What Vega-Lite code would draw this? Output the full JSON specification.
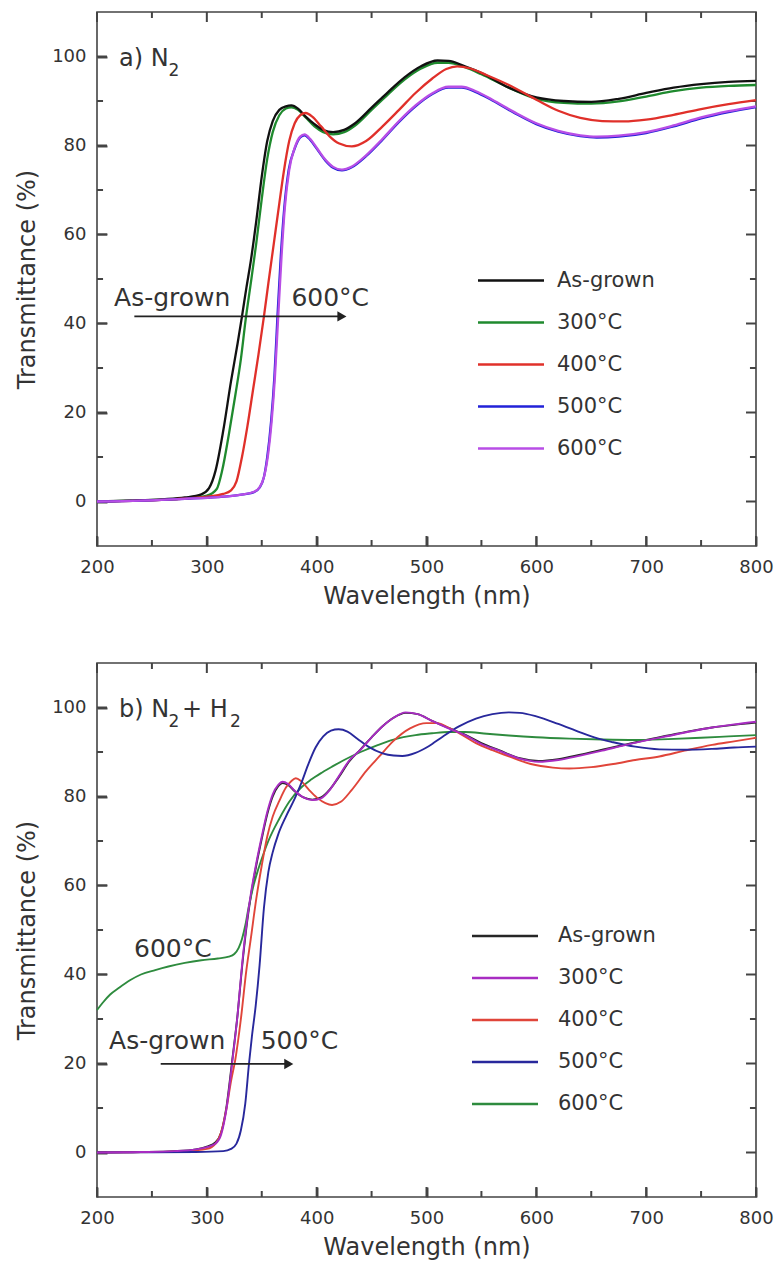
{
  "$schema": "https://vega.github.io/schema/vega-lite/v6.json",
  "background": "white",
  "padding": {"left": 14, "top": 10, "right": 0, "bottom": 0},
  "autosize": {"type": "pad"},
  "spacing": 52,
  "resolve": {"scale": {"color": "independent"}},
  "config": {
    "font": "DejaVu Sans",
    "view": {"stroke": "#444", "strokeWidth": 1.6},
    "axis": {"labelFontSize": 18, "labelColor": "#333", "titleFontSize": 24, "titleFontWeight": "normal", "titleColor": "#333", "labelOverlap": false, "labelFlush": false},
    "legend": {"padding": 0, "labelFontSize": 21, "labelColor": "#333", "symbolStrokeWidth": 2.5, "rowPadding": 20},
    "line": {"interpolate": "monotone"}
  },
  "vconcat": [
    {
      "width": 659,
      "height": 534,
      "resolve": {"axis": {"x": "independent", "y": "independent"}},
      "layer": [
        {
          "data": {"values": [{"v": 200}, {"v": 300}, {"v": 400}, {"v": 500}, {"v": 600}, {"v": 700}, {"v": 800}]},
          "mark": {"type": "rule", "color": "#444", "strokeWidth": 2},
          "encoding": {"x": {"field": "v", "type": "quantitative", "axis": null}, "y": {"datum": -10, "type": "quantitative", "axis": null}, "y2": {"datum": -7.75}}
        },
        {
          "data": {"values": [{"v": 200}, {"v": 300}, {"v": 400}, {"v": 500}, {"v": 600}, {"v": 700}, {"v": 800}]},
          "mark": {"type": "rule", "color": "#444", "strokeWidth": 2},
          "encoding": {"x": {"field": "v", "type": "quantitative", "axis": null}, "y": {"datum": 110, "type": "quantitative", "axis": null}, "y2": {"datum": 107.75}}
        },
        {
          "data": {"values": [{"v": 250}, {"v": 350}, {"v": 450}, {"v": 550}, {"v": 650}, {"v": 750}]},
          "mark": {"type": "rule", "color": "#444", "strokeWidth": 2},
          "encoding": {"x": {"field": "v", "type": "quantitative", "axis": null}, "y": {"datum": -10, "type": "quantitative", "axis": null}, "y2": {"datum": -8.65}}
        },
        {
          "data": {"values": [{"v": 250}, {"v": 350}, {"v": 450}, {"v": 550}, {"v": 650}, {"v": 750}]},
          "mark": {"type": "rule", "color": "#444", "strokeWidth": 2},
          "encoding": {"x": {"field": "v", "type": "quantitative", "axis": null}, "y": {"datum": 110, "type": "quantitative", "axis": null}, "y2": {"datum": 108.65}}
        },
        {
          "data": {"values": [{"v": 0}, {"v": 20}, {"v": 40}, {"v": 60}, {"v": 80}, {"v": 100}]},
          "mark": {"type": "rule", "color": "#444", "strokeWidth": 2},
          "encoding": {"y": {"field": "v", "type": "quantitative", "axis": null}, "x": {"datum": 200, "type": "quantitative", "axis": null}, "x2": {"datum": 209.1}}
        },
        {
          "data": {"values": [{"v": 0}, {"v": 20}, {"v": 40}, {"v": 60}, {"v": 80}, {"v": 100}]},
          "mark": {"type": "rule", "color": "#444", "strokeWidth": 2},
          "encoding": {"y": {"field": "v", "type": "quantitative", "axis": null}, "x": {"datum": 800, "type": "quantitative", "axis": null}, "x2": {"datum": 790.9}}
        },
        {
          "data": {"values": [{"v": 10}, {"v": 30}, {"v": 50}, {"v": 70}, {"v": 90}]},
          "mark": {"type": "rule", "color": "#444", "strokeWidth": 2},
          "encoding": {"y": {"field": "v", "type": "quantitative", "axis": null}, "x": {"datum": 200, "type": "quantitative", "axis": null}, "x2": {"datum": 205.5}}
        },
        {
          "data": {"values": [{"v": 10}, {"v": 30}, {"v": 50}, {"v": 70}, {"v": 90}]},
          "mark": {"type": "rule", "color": "#444", "strokeWidth": 2},
          "encoding": {"y": {"field": "v", "type": "quantitative", "axis": null}, "x": {"datum": 800, "type": "quantitative", "axis": null}, "x2": {"datum": 794.5}}
        },
        {
          "data": {"values": [
            {"s":"300°C","x":200,"y":0},{"s":"300°C","x":230,"y":0.2},{"s":"300°C","x":260,"y":0.4},{"s":"300°C","x":280,"y":0.7},{"s":"300°C","x":300,"y":1.3},{"s":"300°C","x":309,"y":2.8},{"s":"300°C","x":314,"y":7},{"s":"300°C","x":320,"y":15},{"s":"300°C","x":326,"y":24},{"s":"300°C","x":331,"y":32},{"s":"300°C","x":335.4,"y":41},{"s":"300°C","x":340,"y":49},{"s":"300°C","x":345,"y":58},{"s":"300°C","x":350,"y":68},{"s":"300°C","x":355,"y":77},{"s":"300°C","x":360,"y":83},{"s":"300°C","x":366,"y":86.8},{"s":"300°C","x":372,"y":88.3},{"s":"300°C","x":377,"y":88.6},{"s":"300°C","x":383,"y":88},{"s":"300°C","x":390,"y":86.3},{"s":"300°C","x":398,"y":84.3},{"s":"300°C","x":406,"y":83},{"s":"300°C","x":415,"y":82.5},{"s":"300°C","x":425,"y":83},{"s":"300°C","x":435,"y":84.5},{"s":"300°C","x":450,"y":88},{"s":"300°C","x":465,"y":91.5},{"s":"300°C","x":480,"y":94.8},{"s":"300°C","x":495,"y":97.3},{"s":"300°C","x":510,"y":98.6},{"s":"300°C","x":520,"y":98.6},{"s":"300°C","x":535,"y":97.6},{"s":"300°C","x":550,"y":96},{"s":"300°C","x":575,"y":93},{"s":"300°C","x":600,"y":90.5},{"s":"300°C","x":625,"y":89.6},{"s":"300°C","x":650,"y":89.4},{"s":"300°C","x":675,"y":89.9},{"s":"300°C","x":700,"y":91},{"s":"300°C","x":725,"y":92.2},{"s":"300°C","x":750,"y":93},{"s":"300°C","x":775,"y":93.4},{"s":"300°C","x":800,"y":93.6},
            {"s":"As-grown","x":200,"y":0},{"s":"As-grown","x":230,"y":0.2},{"s":"As-grown","x":260,"y":0.5},{"s":"As-grown","x":280,"y":0.9},{"s":"As-grown","x":295,"y":1.6},{"s":"As-grown","x":302,"y":3},{"s":"As-grown","x":308,"y":7},{"s":"As-grown","x":315,"y":16},{"s":"As-grown","x":322,"y":27},{"s":"As-grown","x":328,"y":35.5},{"s":"As-grown","x":332,"y":41.6},{"s":"As-grown","x":336,"y":48},{"s":"As-grown","x":340,"y":54},{"s":"As-grown","x":345,"y":63},{"s":"As-grown","x":350,"y":73},{"s":"As-grown","x":355,"y":81},{"s":"As-grown","x":360,"y":85.5},{"s":"As-grown","x":366,"y":88},{"s":"As-grown","x":372,"y":88.8},{"s":"As-grown","x":377,"y":89},{"s":"As-grown","x":383,"y":88.3},{"s":"As-grown","x":390,"y":86.5},{"s":"As-grown","x":398,"y":84.8},{"s":"As-grown","x":406,"y":83.5},{"s":"As-grown","x":415,"y":83},{"s":"As-grown","x":425,"y":83.5},{"s":"As-grown","x":435,"y":85},{"s":"As-grown","x":450,"y":88.5},{"s":"As-grown","x":465,"y":92},{"s":"As-grown","x":480,"y":95.3},{"s":"As-grown","x":495,"y":97.8},{"s":"As-grown","x":510,"y":99.1},{"s":"As-grown","x":520,"y":99},{"s":"As-grown","x":535,"y":97.8},{"s":"As-grown","x":550,"y":96.3},{"s":"As-grown","x":575,"y":93},{"s":"As-grown","x":600,"y":90.8},{"s":"As-grown","x":625,"y":90},{"s":"As-grown","x":650,"y":89.8},{"s":"As-grown","x":675,"y":90.5},{"s":"As-grown","x":700,"y":91.8},{"s":"As-grown","x":725,"y":93},{"s":"As-grown","x":750,"y":93.8},{"s":"As-grown","x":775,"y":94.3},{"s":"As-grown","x":800,"y":94.5},
            {"s":"400°C","x":200,"y":0},{"s":"400°C","x":240,"y":0.2},{"s":"400°C","x":270,"y":0.5},{"s":"400°C","x":300,"y":1.1},{"s":"400°C","x":315,"y":1.7},{"s":"400°C","x":322,"y":2.5},{"s":"400°C","x":327,"y":4.5},{"s":"400°C","x":332,"y":10},{"s":"400°C","x":337,"y":17},{"s":"400°C","x":342,"y":25},{"s":"400°C","x":347,"y":33},{"s":"400°C","x":352,"y":41.6},{"s":"400°C","x":356,"y":49},{"s":"400°C","x":361,"y":58},{"s":"400°C","x":366,"y":67},{"s":"400°C","x":370,"y":74},{"s":"400°C","x":375,"y":81},{"s":"400°C","x":380,"y":85},{"s":"400°C","x":385,"y":86.8},{"s":"400°C","x":390,"y":87.3},{"s":"400°C","x":396,"y":86.5},{"s":"400°C","x":404,"y":84.3},{"s":"400°C","x":412,"y":82},{"s":"400°C","x":420,"y":80.5},{"s":"400°C","x":432,"y":79.8},{"s":"400°C","x":445,"y":81},{"s":"400°C","x":460,"y":84.3},{"s":"400°C","x":475,"y":88},{"s":"400°C","x":490,"y":91.8},{"s":"400°C","x":505,"y":95},{"s":"400°C","x":518,"y":97.2},{"s":"400°C","x":528,"y":97.8},{"s":"400°C","x":540,"y":97.3},{"s":"400°C","x":555,"y":95.8},{"s":"400°C","x":575,"y":93.6},{"s":"400°C","x":600,"y":90.3},{"s":"400°C","x":620,"y":87.8},{"s":"400°C","x":640,"y":86.2},{"s":"400°C","x":660,"y":85.5},{"s":"400°C","x":680,"y":85.4},{"s":"400°C","x":700,"y":85.8},{"s":"400°C","x":725,"y":86.9},{"s":"400°C","x":750,"y":88.2},{"s":"400°C","x":775,"y":89.3},{"s":"400°C","x":800,"y":90.2},
            {"s":"500°C","x":200,"y":0},{"s":"500°C","x":240,"y":0.2},{"s":"500°C","x":280,"y":0.6},{"s":"500°C","x":310,"y":1},{"s":"500°C","x":330,"y":1.5},{"s":"500°C","x":343,"y":2.1},{"s":"500°C","x":348,"y":3.1},{"s":"500°C","x":352,"y":5.5},{"s":"500°C","x":355,"y":10},{"s":"500°C","x":358.5,"y":18},{"s":"500°C","x":361.5,"y":28},{"s":"500°C","x":364.3,"y":41.6},{"s":"500°C","x":367.3,"y":55},{"s":"500°C","x":370.5,"y":66},{"s":"500°C","x":374.5,"y":74.5},{"s":"500°C","x":380,"y":79.3},{"s":"500°C","x":385,"y":81.8},{"s":"500°C","x":389,"y":82.3},{"s":"500°C","x":394,"y":81.3},{"s":"500°C","x":400,"y":79.3},{"s":"500°C","x":408,"y":76.6},{"s":"500°C","x":415,"y":75},{"s":"500°C","x":423,"y":74.4},{"s":"500°C","x":432,"y":75.1},{"s":"500°C","x":445,"y":77.6},{"s":"500°C","x":460,"y":81.3},{"s":"500°C","x":475,"y":85.3},{"s":"500°C","x":490,"y":88.8},{"s":"500°C","x":505,"y":91.5},{"s":"500°C","x":520,"y":93},{"s":"500°C","x":532,"y":93},{"s":"500°C","x":545,"y":92},{"s":"500°C","x":560,"y":90.1},{"s":"500°C","x":580,"y":87.3},{"s":"500°C","x":600,"y":84.8},{"s":"500°C","x":620,"y":83.1},{"s":"500°C","x":640,"y":82.1},{"s":"500°C","x":655,"y":81.8},{"s":"500°C","x":675,"y":82},{"s":"500°C","x":700,"y":82.8},{"s":"500°C","x":725,"y":84.3},{"s":"500°C","x":750,"y":86.1},{"s":"500°C","x":775,"y":87.5},{"s":"500°C","x":800,"y":88.6},
            {"s":"600°C","x":200,"y":0},{"s":"600°C","x":240,"y":0.2},{"s":"600°C","x":280,"y":0.6},{"s":"600°C","x":310,"y":1},{"s":"600°C","x":330,"y":1.5},{"s":"600°C","x":343,"y":2.2},{"s":"600°C","x":348,"y":3.2},{"s":"600°C","x":352,"y":5.5},{"s":"600°C","x":356,"y":11},{"s":"600°C","x":359,"y":18},{"s":"600°C","x":362,"y":28},{"s":"600°C","x":365,"y":41.6},{"s":"600°C","x":368,"y":55},{"s":"600°C","x":371,"y":66},{"s":"600°C","x":375,"y":74.5},{"s":"600°C","x":380,"y":79.5},{"s":"600°C","x":385,"y":82},{"s":"600°C","x":389,"y":82.5},{"s":"600°C","x":394,"y":81.5},{"s":"600°C","x":400,"y":79.5},{"s":"600°C","x":408,"y":76.8},{"s":"600°C","x":415,"y":75.2},{"s":"600°C","x":423,"y":74.6},{"s":"600°C","x":432,"y":75.3},{"s":"600°C","x":445,"y":77.8},{"s":"600°C","x":460,"y":81.5},{"s":"600°C","x":475,"y":85.5},{"s":"600°C","x":490,"y":89},{"s":"600°C","x":505,"y":91.7},{"s":"600°C","x":520,"y":93.2},{"s":"600°C","x":532,"y":93.2},{"s":"600°C","x":545,"y":92.2},{"s":"600°C","x":560,"y":90.3},{"s":"600°C","x":580,"y":87.5},{"s":"600°C","x":600,"y":85},{"s":"600°C","x":620,"y":83.3},{"s":"600°C","x":640,"y":82.3},{"s":"600°C","x":655,"y":82},{"s":"600°C","x":675,"y":82.2},{"s":"600°C","x":700,"y":83},{"s":"600°C","x":725,"y":84.5},{"s":"600°C","x":750,"y":86.3},{"s":"600°C","x":775,"y":87.7},{"s":"600°C","x":800,"y":88.8}
          ]},
          "mark": {"type": "line", "strokeWidth": 2.3},
          "encoding": {
            "x": {"field": "x", "type": "quantitative", "scale": {"domain": [200, 800], "nice": false, "zero": false}, "axis": {"orient": "bottom", "values": [200, 300, 400, 500, 600, 700, 800], "title": "Wavelength (nm)", "grid": false, "domain": false, "ticks": true, "tickColor": "#444", "tickWidth": 2, "tickSize": -10, "labelPadding": 22, "titlePadding": 8}},
            "y": {"field": "y", "type": "quantitative", "scale": {"domain": [-10, 110], "nice": false, "zero": false}, "axis": {"orient": "left", "values": [0, 20, 40, 60, 80, 100], "title": "Transmittance (%)", "grid": false, "domain": false, "ticks": true, "tickColor": "#444", "tickWidth": 2, "tickSize": -10, "labelPadding": 21, "titlePadding": 12}},
            "color": {"field": "s", "type": "nominal", "scale": {"domain": ["As-grown", "300°C", "400°C", "500°C", "600°C"], "range": ["#111111", "#1f8a2e", "#e0302a", "#2222d8", "#b84ee6"]}, "legend": {"title": null, "orient": "none", "legendX": 403.5, "legendY": 258, "symbolType": "M-6,0H6", "symbolSize": 121, "labelOffset": 35.5}}
          }
        },
        {
          "data": {"values": [{"t": "As-grown", "x": 215.5, "y": 44}, {"t": "600°C", "x": 377, "y": 44}]},
          "mark": {"type": "text", "align": "left", "baseline": "alphabetic", "fontSize": 25, "color": "#333"},
          "encoding": {
            "x": {"field": "x", "type": "quantitative", "axis": null},
            "y": {"field": "y", "type": "quantitative", "axis": null},
            "text": {"field": "t"}
          }
        },
        {
          "data": {"values": [{"x": 234, "x2": 424, "y": 41.6}]},
          "mark": {"type": "rule", "color": "#222", "strokeWidth": 1.8},
          "encoding": {
            "x": {"field": "x", "type": "quantitative", "axis": null},
            "x2": {"field": "x2"},
            "y": {"field": "y", "type": "quantitative", "axis": null}
          }
        },
        {
          "data": {"values": [{"x": 423, "y": 41.6}]},
          "mark": {"type": "point", "shape": "triangle-right", "filled": true, "size": 110, "color": "#222", "opacity": 1},
          "encoding": {
            "x": {"field": "x", "type": "quantitative", "axis": null},
            "y": {"field": "y", "type": "quantitative", "axis": null}
          }
        },
        {
          "data": {"values": [{"t": "a) N", "x": 220, "y": 97.8}]},
          "mark": {"type": "text", "align": "left", "baseline": "alphabetic", "fontSize": 24, "color": "#333"},
          "encoding": {
            "x": {"field": "x", "type": "quantitative", "axis": null},
            "y": {"field": "y", "type": "quantitative", "axis": null},
            "text": {"field": "t"}
          }
        },
        {
          "data": {"values": [{"t": "2", "x": 265, "y": 95.6}]},
          "mark": {"type": "text", "align": "left", "baseline": "alphabetic", "fontSize": 17, "color": "#333"},
          "encoding": {
            "x": {"field": "x", "type": "quantitative", "axis": null},
            "y": {"field": "y", "type": "quantitative", "axis": null},
            "text": {"field": "t"}
          }
        }
      ]
    },
    {
      "width": 659,
      "height": 534,
      "resolve": {"axis": {"x": "independent", "y": "independent"}},
      "layer": [
        {
          "data": {"values": [{"v": 200}, {"v": 300}, {"v": 400}, {"v": 500}, {"v": 600}, {"v": 700}, {"v": 800}]},
          "mark": {"type": "rule", "color": "#444", "strokeWidth": 2},
          "encoding": {"x": {"field": "v", "type": "quantitative", "axis": null}, "y": {"datum": -10, "type": "quantitative", "axis": null}, "y2": {"datum": -7.75}}
        },
        {
          "data": {"values": [{"v": 200}, {"v": 300}, {"v": 400}, {"v": 500}, {"v": 600}, {"v": 700}, {"v": 800}]},
          "mark": {"type": "rule", "color": "#444", "strokeWidth": 2},
          "encoding": {"x": {"field": "v", "type": "quantitative", "axis": null}, "y": {"datum": 110, "type": "quantitative", "axis": null}, "y2": {"datum": 107.75}}
        },
        {
          "data": {"values": [{"v": 250}, {"v": 350}, {"v": 450}, {"v": 550}, {"v": 650}, {"v": 750}]},
          "mark": {"type": "rule", "color": "#444", "strokeWidth": 2},
          "encoding": {"x": {"field": "v", "type": "quantitative", "axis": null}, "y": {"datum": -10, "type": "quantitative", "axis": null}, "y2": {"datum": -8.65}}
        },
        {
          "data": {"values": [{"v": 250}, {"v": 350}, {"v": 450}, {"v": 550}, {"v": 650}, {"v": 750}]},
          "mark": {"type": "rule", "color": "#444", "strokeWidth": 2},
          "encoding": {"x": {"field": "v", "type": "quantitative", "axis": null}, "y": {"datum": 110, "type": "quantitative", "axis": null}, "y2": {"datum": 108.65}}
        },
        {
          "data": {"values": [{"v": 0}, {"v": 20}, {"v": 40}, {"v": 60}, {"v": 80}, {"v": 100}]},
          "mark": {"type": "rule", "color": "#444", "strokeWidth": 2},
          "encoding": {"y": {"field": "v", "type": "quantitative", "axis": null}, "x": {"datum": 200, "type": "quantitative", "axis": null}, "x2": {"datum": 209.1}}
        },
        {
          "data": {"values": [{"v": 0}, {"v": 20}, {"v": 40}, {"v": 60}, {"v": 80}, {"v": 100}]},
          "mark": {"type": "rule", "color": "#444", "strokeWidth": 2},
          "encoding": {"y": {"field": "v", "type": "quantitative", "axis": null}, "x": {"datum": 800, "type": "quantitative", "axis": null}, "x2": {"datum": 790.9}}
        },
        {
          "data": {"values": [{"v": 10}, {"v": 30}, {"v": 50}, {"v": 70}, {"v": 90}]},
          "mark": {"type": "rule", "color": "#444", "strokeWidth": 2},
          "encoding": {"y": {"field": "v", "type": "quantitative", "axis": null}, "x": {"datum": 200, "type": "quantitative", "axis": null}, "x2": {"datum": 205.5}}
        },
        {
          "data": {"values": [{"v": 10}, {"v": 30}, {"v": 50}, {"v": 70}, {"v": 90}]},
          "mark": {"type": "rule", "color": "#444", "strokeWidth": 2},
          "encoding": {"y": {"field": "v", "type": "quantitative", "axis": null}, "x": {"datum": 800, "type": "quantitative", "axis": null}, "x2": {"datum": 794.5}}
        },
        {
          "data": {"values": [
            {"s":"As-grown","x":200,"y":0},{"s":"As-grown","x":240,"y":0.1},{"s":"As-grown","x":270,"y":0.3},{"s":"As-grown","x":290,"y":0.7},{"s":"As-grown","x":300,"y":1.3},{"s":"As-grown","x":308,"y":2.3},{"s":"As-grown","x":313,"y":4.5},{"s":"As-grown","x":318,"y":10.5},{"s":"As-grown","x":323,"y":20.5},{"s":"As-grown","x":328,"y":31},{"s":"As-grown","x":332,"y":41.5},{"s":"As-grown","x":336,"y":50.5},{"s":"As-grown","x":340,"y":57.5},{"s":"As-grown","x":345,"y":64.5},{"s":"As-grown","x":350,"y":70.5},{"s":"As-grown","x":355,"y":76},{"s":"As-grown","x":360,"y":80},{"s":"As-grown","x":365,"y":82.3},{"s":"As-grown","x":369,"y":83},{"s":"As-grown","x":374,"y":82.6},{"s":"As-grown","x":380,"y":81.2},{"s":"As-grown","x":388,"y":79.8},{"s":"As-grown","x":396,"y":79.3},{"s":"As-grown","x":404,"y":79.8},{"s":"As-grown","x":412,"y":81.6},{"s":"As-grown","x":420,"y":84.3},{"s":"As-grown","x":430,"y":88},{"s":"As-grown","x":440,"y":90.6},{"s":"As-grown","x":450,"y":93.3},{"s":"As-grown","x":460,"y":95.8},{"s":"As-grown","x":470,"y":97.7},{"s":"As-grown","x":481,"y":98.8},{"s":"As-grown","x":492,"y":98.5},{"s":"As-grown","x":505,"y":97},{"s":"As-grown","x":520,"y":95.4},{"s":"As-grown","x":535,"y":93.9},{"s":"As-grown","x":550,"y":92},{"s":"As-grown","x":566,"y":90.4},{"s":"As-grown","x":585,"y":88.6},{"s":"As-grown","x":602,"y":88},{"s":"As-grown","x":620,"y":88.4},{"s":"As-grown","x":640,"y":89.4},{"s":"As-grown","x":660,"y":90.5},{"s":"As-grown","x":680,"y":91.6},{"s":"As-grown","x":700,"y":92.7},{"s":"As-grown","x":720,"y":93.7},{"s":"As-grown","x":740,"y":94.7},{"s":"As-grown","x":760,"y":95.5},{"s":"As-grown","x":780,"y":96.1},{"s":"As-grown","x":800,"y":96.6},
            {"s":"600°C","x":200,"y":32},{"s":"600°C","x":205,"y":33.6},{"s":"600°C","x":212,"y":35.5},{"s":"600°C","x":220,"y":37},{"s":"600°C","x":230,"y":38.7},{"s":"600°C","x":240,"y":40},{"s":"600°C","x":253,"y":41},{"s":"600°C","x":265,"y":41.8},{"s":"600°C","x":280,"y":42.6},{"s":"600°C","x":295,"y":43.2},{"s":"600°C","x":310,"y":43.6},{"s":"600°C","x":320,"y":44},{"s":"600°C","x":325,"y":44.6},{"s":"600°C","x":329,"y":46},{"s":"600°C","x":332,"y":48},{"s":"600°C","x":335,"y":51},{"s":"600°C","x":338,"y":55},{"s":"600°C","x":342,"y":59.5},{"s":"600°C","x":346,"y":63},{"s":"600°C","x":350,"y":66},{"s":"600°C","x":356,"y":70},{"s":"600°C","x":366,"y":75},{"s":"600°C","x":375,"y":78.8},{"s":"600°C","x":385,"y":81.8},{"s":"600°C","x":395,"y":83.8},{"s":"600°C","x":405,"y":85.4},{"s":"600°C","x":414,"y":86.7},{"s":"600°C","x":425,"y":88.2},{"s":"600°C","x":440,"y":90},{"s":"600°C","x":455,"y":91.5},{"s":"600°C","x":470,"y":92.8},{"s":"600°C","x":490,"y":93.8},{"s":"600°C","x":505,"y":94.2},{"s":"600°C","x":520,"y":94.5},{"s":"600°C","x":535,"y":94.5},{"s":"600°C","x":555,"y":94.1},{"s":"600°C","x":575,"y":93.7},{"s":"600°C","x":600,"y":93.3},{"s":"600°C","x":630,"y":93},{"s":"600°C","x":660,"y":92.8},{"s":"600°C","x":690,"y":92.7},{"s":"600°C","x":720,"y":92.9},{"s":"600°C","x":750,"y":93.2},{"s":"600°C","x":775,"y":93.5},{"s":"600°C","x":800,"y":93.8},
            {"s":"400°C","x":200,"y":0},{"s":"400°C","x":250,"y":0.1},{"s":"400°C","x":280,"y":0.3},{"s":"400°C","x":300,"y":0.8},{"s":"400°C","x":308,"y":2},{"s":"400°C","x":313,"y":4.5},{"s":"400°C","x":318,"y":10},{"s":"400°C","x":322,"y":16},{"s":"400°C","x":326,"y":21},{"s":"400°C","x":331,"y":30},{"s":"400°C","x":336,"y":41},{"s":"400°C","x":340,"y":48},{"s":"400°C","x":345,"y":57},{"s":"400°C","x":350,"y":64.5},{"s":"400°C","x":355,"y":71},{"s":"400°C","x":360,"y":75.5},{"s":"400°C","x":366,"y":79},{"s":"400°C","x":372,"y":82},{"s":"400°C","x":377,"y":83.5},{"s":"400°C","x":381,"y":84.1},{"s":"400°C","x":386,"y":83.4},{"s":"400°C","x":393,"y":81.5},{"s":"400°C","x":400,"y":79.8},{"s":"400°C","x":408,"y":78.5},{"s":"400°C","x":414,"y":78.1},{"s":"400°C","x":422,"y":78.8},{"s":"400°C","x":432,"y":81.5},{"s":"400°C","x":445,"y":85.7},{"s":"400°C","x":457,"y":89},{"s":"400°C","x":470,"y":92.5},{"s":"400°C","x":485,"y":95.3},{"s":"400°C","x":500,"y":96.5},{"s":"400°C","x":510,"y":96.5},{"s":"400°C","x":520,"y":95.5},{"s":"400°C","x":530,"y":94.2},{"s":"400°C","x":545,"y":92},{"s":"400°C","x":560,"y":90.4},{"s":"400°C","x":575,"y":89},{"s":"400°C","x":595,"y":87.3},{"s":"400°C","x":615,"y":86.5},{"s":"400°C","x":630,"y":86.3},{"s":"400°C","x":650,"y":86.6},{"s":"400°C","x":670,"y":87.3},{"s":"400°C","x":690,"y":88.2},{"s":"400°C","x":712,"y":89},{"s":"400°C","x":735,"y":90.3},{"s":"400°C","x":760,"y":91.6},{"s":"400°C","x":780,"y":92.4},{"s":"400°C","x":800,"y":93.2},
            {"s":"500°C","x":200,"y":0},{"s":"500°C","x":250,"y":0.05},{"s":"500°C","x":290,"y":0.1},{"s":"500°C","x":315,"y":0.3},{"s":"500°C","x":322,"y":0.8},{"s":"500°C","x":327,"y":2},{"s":"500°C","x":331,"y":5},{"s":"500°C","x":335,"y":11},{"s":"500°C","x":338.4,"y":20},{"s":"500°C","x":341,"y":26},{"s":"500°C","x":344.5,"y":33},{"s":"500°C","x":348,"y":42},{"s":"500°C","x":352,"y":55},{"s":"500°C","x":356,"y":63},{"s":"500°C","x":360,"y":67.5},{"s":"500°C","x":365,"y":71.5},{"s":"500°C","x":372,"y":75.5},{"s":"500°C","x":380,"y":79.5},{"s":"500°C","x":386,"y":83},{"s":"500°C","x":392,"y":87},{"s":"500°C","x":399,"y":91},{"s":"500°C","x":406,"y":93.5},{"s":"500°C","x":413,"y":94.8},{"s":"500°C","x":420,"y":95.1},{"s":"500°C","x":428,"y":94.6},{"s":"500°C","x":437,"y":93},{"s":"500°C","x":447,"y":91.2},{"s":"500°C","x":460,"y":89.7},{"s":"500°C","x":470,"y":89.2},{"s":"500°C","x":478,"y":89.1},{"s":"500°C","x":490,"y":89.8},{"s":"500°C","x":502,"y":91.3},{"s":"500°C","x":515,"y":93.5},{"s":"500°C","x":530,"y":95.8},{"s":"500°C","x":545,"y":97.5},{"s":"500°C","x":560,"y":98.5},{"s":"500°C","x":575,"y":98.9},{"s":"500°C","x":585,"y":98.8},{"s":"500°C","x":600,"y":98},{"s":"500°C","x":620,"y":96.3},{"s":"500°C","x":640,"y":94.4},{"s":"500°C","x":655,"y":93.1},{"s":"500°C","x":670,"y":92.2},{"s":"500°C","x":690,"y":91.2},{"s":"500°C","x":712,"y":90.6},{"s":"500°C","x":735,"y":90.5},{"s":"500°C","x":760,"y":90.7},{"s":"500°C","x":780,"y":91},{"s":"500°C","x":800,"y":91.2},
            {"s":"300°C","x":200,"y":0},{"s":"300°C","x":240,"y":0.1},{"s":"300°C","x":270,"y":0.3},{"s":"300°C","x":290,"y":0.7},{"s":"300°C","x":300,"y":1.2},{"s":"300°C","x":308,"y":2},{"s":"300°C","x":313,"y":4},{"s":"300°C","x":318,"y":10},{"s":"300°C","x":323,"y":20},{"s":"300°C","x":328,"y":31},{"s":"300°C","x":332,"y":42},{"s":"300°C","x":336,"y":51},{"s":"300°C","x":340,"y":58},{"s":"300°C","x":345,"y":65},{"s":"300°C","x":350,"y":71},{"s":"300°C","x":355,"y":76.5},{"s":"300°C","x":360,"y":80.5},{"s":"300°C","x":365,"y":82.6},{"s":"300°C","x":369,"y":83.3},{"s":"300°C","x":374,"y":82.8},{"s":"300°C","x":380,"y":81.3},{"s":"300°C","x":388,"y":79.8},{"s":"300°C","x":396,"y":79.2},{"s":"300°C","x":404,"y":79.6},{"s":"300°C","x":412,"y":81.5},{"s":"300°C","x":420,"y":84.5},{"s":"300°C","x":430,"y":88.2},{"s":"300°C","x":440,"y":90.5},{"s":"300°C","x":450,"y":93.3},{"s":"300°C","x":460,"y":95.8},{"s":"300°C","x":470,"y":97.7},{"s":"300°C","x":481,"y":98.9},{"s":"300°C","x":492,"y":98.5},{"s":"300°C","x":505,"y":97},{"s":"300°C","x":520,"y":95.3},{"s":"300°C","x":535,"y":93.8},{"s":"300°C","x":550,"y":91.8},{"s":"300°C","x":566,"y":90.3},{"s":"300°C","x":585,"y":88.5},{"s":"300°C","x":602,"y":87.8},{"s":"300°C","x":620,"y":88.2},{"s":"300°C","x":640,"y":89.2},{"s":"300°C","x":660,"y":90.3},{"s":"300°C","x":680,"y":91.5},{"s":"300°C","x":700,"y":92.6},{"s":"300°C","x":720,"y":93.6},{"s":"300°C","x":740,"y":94.6},{"s":"300°C","x":760,"y":95.5},{"s":"300°C","x":780,"y":96.2},{"s":"300°C","x":800,"y":96.8}
          ]},
          "mark": {"type": "line", "strokeWidth": 1.9},
          "encoding": {
            "x": {"field": "x", "type": "quantitative", "scale": {"domain": [200, 800], "nice": false, "zero": false}, "axis": {"orient": "bottom", "values": [200, 300, 400, 500, 600, 700, 800], "title": "Wavelength (nm)", "grid": false, "domain": false, "ticks": true, "tickColor": "#444", "tickWidth": 2, "tickSize": -10, "labelPadding": 22, "titlePadding": 8}},
            "y": {"field": "y", "type": "quantitative", "scale": {"domain": [-10, 110], "nice": false, "zero": false}, "axis": {"orient": "left", "values": [0, 20, 40, 60, 80, 100], "title": "Transmittance (%)", "grid": false, "domain": false, "ticks": true, "tickColor": "#444", "tickWidth": 2, "tickSize": -10, "labelPadding": 21, "titlePadding": 12}},
            "color": {"field": "s", "type": "nominal", "scale": {"domain": ["As-grown", "300°C", "400°C", "500°C", "600°C"], "range": ["#262626", "#a82cc2", "#e0453a", "#28289c", "#2e8b3e"]}, "legend": {"title": null, "orient": "none", "legendX": 397.5, "legendY": 262.5, "symbolType": "M-6,0H6", "symbolSize": 121, "labelOffset": 42.5}}
          }
        },
        {
          "data": {"values": [{"t": "600°C", "x": 233.7, "y": 43.9}, {"t": "As-grown", "x": 211, "y": 23.3}, {"t": "500°C", "x": 349, "y": 23.3}]},
          "mark": {"type": "text", "align": "left", "baseline": "alphabetic", "fontSize": 25, "color": "#333"},
          "encoding": {
            "x": {"field": "x", "type": "quantitative", "axis": null},
            "y": {"field": "y", "type": "quantitative", "axis": null},
            "text": {"field": "t"}
          }
        },
        {
          "data": {"values": [{"x": 258, "x2": 375, "y": 19.9}]},
          "mark": {"type": "rule", "color": "#222", "strokeWidth": 1.8},
          "encoding": {
            "x": {"field": "x", "type": "quantitative", "axis": null},
            "x2": {"field": "x2"},
            "y": {"field": "y", "type": "quantitative", "axis": null}
          }
        },
        {
          "data": {"values": [{"x": 374.6, "y": 19.9}]},
          "mark": {"type": "point", "shape": "triangle-right", "filled": true, "size": 110, "color": "#222", "opacity": 1},
          "encoding": {
            "x": {"field": "x", "type": "quantitative", "axis": null},
            "y": {"field": "y", "type": "quantitative", "axis": null}
          }
        },
        {
          "data": {"values": [{"t": "b) N", "x": 220, "y": 97.8}, {"t": "+ H", "x": 277.5, "y": 97.8}]},
          "mark": {"type": "text", "align": "left", "baseline": "alphabetic", "fontSize": 24, "color": "#333"},
          "encoding": {
            "x": {"field": "x", "type": "quantitative", "axis": null},
            "y": {"field": "y", "type": "quantitative", "axis": null},
            "text": {"field": "t"}
          }
        },
        {
          "data": {"values": [{"t": "2", "x": 265, "y": 95.6}, {"t": "2", "x": 321, "y": 95.6}]},
          "mark": {"type": "text", "align": "left", "baseline": "alphabetic", "fontSize": 17, "color": "#333"},
          "encoding": {
            "x": {"field": "x", "type": "quantitative", "axis": null},
            "y": {"field": "y", "type": "quantitative", "axis": null},
            "text": {"field": "t"}
          }
        }
      ]
    }
  ]
}
